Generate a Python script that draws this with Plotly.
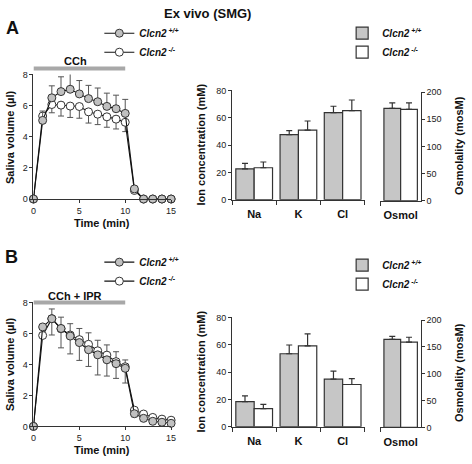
import plotly.graph_objects as go

W, H = 472, 464

# ---------------- data ----------------
time_min = list(range(16))
stim_period = [0, 10]

# Panel A: CCh
a_wt = [0, 5.05, 6.5, 6.9, 7.05, 6.75, 6.45, 6.25, 5.95, 5.8, 5.5, 0.65, 0, 0, 0, 0]
a_wt_err = [0, 0.6, 0.77, 0.95, 1.05, 0.86, 0.85, 0.88, 0.85, 0.87, 0.9, 0, 0, 0, 0, 0]
a_ko = [0, 5.33, 6.07, 6.03, 5.97, 5.94, 5.6, 5.45, 5.28, 5.13, 4.93, 0.55, 0, 0, 0, 0]
a_ko_err = [0, 0.2, 0.53, 0.7, 0.73, 0.75, 0.72, 0.67, 0.67, 0.63, 0.6, 0, 0, 0, 0, 0]

# Panel B: CCh + IPR
b_wt = [0, 6.42, 6.95, 6.32, 5.83, 5.41, 4.95, 4.62, 4.3, 4.05, 3.75, 0.82, 0.52, 0.33, 0.27, 0.2]
b_wt_err = [0, 0, 1.05, 1.25, 1.15, 1.15, 1.08, 1.3, 1.05, 0.95, 0.95, 0.2, 0.1, 0.1, 0.1, 0.1]
b_ko = [0, 5.87, 6.95, 6.3, 5.9, 5.6, 5.3, 4.88, 4.6, 4.18, 3.85, 1.05, 0.8, 0.58, 0.47, 0.4]
b_ko_err = [0, 0, 0.63, 0.75, 0.73, 0.72, 0.74, 0.68, 0.66, 0.64, 0.44, 0.1, 0.1, 0.1, 0.1, 0.1]

ions = ["Na", "K", "Cl"]
osm_cat = ["Osmol"]

a_ion_wt = [22.6, 47.6, 63.8]
a_ion_wt_err = [4.0, 3.0, 4.6]
a_ion_ko = [23.4, 50.9, 65.2]
a_ion_ko_err = [4.2, 6.7, 7.8]
a_osm_wt = [170]
a_osm_wt_err = [10]
a_osm_ko = [168]
a_osm_ko_err = [12]

b_ion_wt = [18.4, 53.4, 34.8]
b_ion_wt_err = [4.2, 6.4, 5.9]
b_ion_ko = [13.3, 59.1, 30.9]
b_ion_ko_err = [3.0, 8.8, 4.3]
b_osm_wt = [164]
b_osm_wt_err = [5.5]
b_osm_ko = [159]
b_osm_ko_err = [9]

WT_NAME = "<b><i>Clcn2</i></b><b><i><sup> +/+</sup></i></b>"
KO_NAME = "<b><i>Clcn2</i></b><b><i><sup> -/-</sup></i></b>"

# ---------------- style ----------------
FONT = "Liberation Sans, Arial, Helvetica, sans-serif"
GRAY_MARK = "#c0c0c0"
GRAY_BAR = "#c6c6c6"
EDGE = "#333333"
ERR = "#555555"


def px(p):
    return p / W


def py(p):
    return 1 - p / H


fig = go.Figure()


def zeros(n):
    return [0] * n


def add_time_panel(wt, wt_err, ko, ko_err, xa, ya, leg, wt_up):
    n = len(time_min)
    if wt_up:
        wt_e = dict(array=wt_err, arrayminus=zeros(n))
        ko_e = dict(array=zeros(n), arrayminus=ko_err)
    else:
        wt_e = dict(array=zeros(n), arrayminus=wt_err)
        ko_e = dict(array=ko_err, arrayminus=zeros(n))
    fig.add_trace(go.Scatter(
        x=time_min, y=ko, mode="lines+markers", name=KO_NAME, legend=leg, legendrank=2,
        xaxis=xa, yaxis=ya, cliponaxis=False,
        line=dict(color="#111111", width=1.1),
        marker=dict(symbol="circle", size=8, color="white", line=dict(color=EDGE, width=1)),
        error_y=dict(type="data", symmetric=False, color=ERR, thickness=1, width=3, **ko_e),
    ))
    fig.add_trace(go.Scatter(
        x=time_min, y=wt, mode="lines+markers", name=WT_NAME, legend=leg, legendrank=1,
        xaxis=xa, yaxis=ya, cliponaxis=False,
        line=dict(color="#111111", width=1.1),
        marker=dict(symbol="circle", size=8, color=GRAY_MARK, line=dict(color=EDGE, width=1)),
        error_y=dict(type="data", symmetric=False, color=ERR, thickness=1, width=3, **wt_e),
    ))


def add_bar_panel(wt, wt_err, ko, ko_err, owt, owt_err, oko, oko_err, xi, yi, xo, yo, leg):
    n = len(ions)
    for vals, errs, col, name, rank in [(wt, wt_err, GRAY_BAR, WT_NAME, 1),
                                        (ko, ko_err, "white", KO_NAME, 2)]:
        fig.add_trace(go.Bar(
            x=ions, y=vals, name=name, legend=leg, legendrank=rank,
            xaxis=xi, yaxis=yi,
            marker=dict(color=col, line=dict(color=EDGE, width=1.2)),
            error_y=dict(type="data", symmetric=False, array=errs, arrayminus=zeros(n),
                         color=EDGE, thickness=1.2, width=3),
        ))
    for vals, errs, col, name in [(owt, owt_err, GRAY_BAR, WT_NAME),
                                  (oko, oko_err, "white", KO_NAME)]:
        fig.add_trace(go.Bar(
            x=osm_cat, y=vals, name=name, showlegend=False,
            xaxis=xo, yaxis=yo,
            marker=dict(color=col, line=dict(color=EDGE, width=1.2)),
            error_y=dict(type="data", symmetric=False, array=errs, arrayminus=[0],
                         color=EDGE, thickness=1.2, width=3),
        ))


add_time_panel(a_wt, a_wt_err, a_ko, a_ko_err, "x", "y", "legend", True)
add_bar_panel(a_ion_wt, a_ion_wt_err, a_ion_ko, a_ion_ko_err,
              a_osm_wt, a_osm_wt_err, a_osm_ko, a_osm_ko_err, "x2", "y2", "x3", "y3", "legend2")
add_time_panel(b_wt, b_wt_err, b_ko, b_ko_err, "x4", "y4", "legend3", False)
add_bar_panel(b_ion_wt, b_ion_wt_err, b_ion_ko, b_ion_ko_err,
              b_osm_wt, b_osm_wt_err, b_osm_ko, b_osm_ko_err, "x5", "y5", "x6", "y6", "legend4")

axis_base = dict(showline=True, linecolor=EDGE, linewidth=1, ticks="outside", ticklen=3,
                 tickcolor=EDGE, tickwidth=1, showgrid=False, zeroline=False,
                 tickfont=dict(family=FONT, size=9, color="#222222"), fixedrange=True)
cat_font = dict(family=FONT, size=11, color="#111111", weight="bold")

rows = {
    "A": dict(line=(198.3, 71.0), ion=(199.0, 87.3), osm=(200.0, 89.0)),
    "B": dict(line=(430.7, 304.0), ion=(431.0, 319.3), osm=(431.7, 322.0)),
}
line_x = (31, 171)
ion_x = (233, 368)
osm_x = (384, 425)

layout_axes = {}
for r, (lx, ly, ix, iy, ox, oy) in zip(["A", "B"], [("xaxis", "yaxis", "xaxis2", "yaxis2", "xaxis3", "yaxis3"),
                                                   ("xaxis4", "yaxis4", "xaxis5", "yaxis5", "xaxis6", "yaxis6")]):
    g = rows[r]
    anchor = lambda name: name.replace("axis", "")
    layout_axes[lx] = dict(axis_base, domain=[px(line_x[0]), px(line_x[1])], range=[0, 15],
                           tickvals=[0, 5, 10, 15], anchor=anchor(ly))
    layout_axes[ly] = dict(axis_base, domain=[py(g["line"][0]), py(g["line"][1])], range=[0, 8],
                           tickvals=[0, 2, 4, 6, 8], anchor=anchor(lx))
    layout_axes[ix] = dict(axis_base, domain=[px(ion_x[0]), px(ion_x[1])], type="category",
                           range=[-0.5, 2.5], tickson="boundaries", ticklen=4, anchor=anchor(iy),
                           tickfont=cat_font, ticklabelstandoff=4)
    layout_axes[iy] = dict(axis_base, domain=[py(g["ion"][0]), py(g["ion"][1])], range=[0, 80],
                           tickvals=[0, 20, 40, 60, 80], anchor=anchor(ix))
    layout_axes[ox] = dict(axis_base, domain=[px(osm_x[0]), px(osm_x[1])], type="category",
                           range=[-0.5, 0.5], tickson="boundaries", ticklen=4, anchor=anchor(oy),
                           tickfont=cat_font, ticklabelstandoff=4)
    layout_axes[oy] = dict(axis_base, domain=[py(g["osm"][0]), py(g["osm"][1])], range=[0, 200],
                           tickvals=[0, 50, 100, 150, 200], side="right", anchor=anchor(ox))

leg_common = dict(bgcolor="rgba(0,0,0,0)", borderwidth=0, xanchor="left", yanchor="top",
                  font=dict(family=FONT, size=10, color="#111111"), tracegroupgap=0,
                  itemwidth=30)


def ann(text, x, y, size=11, angle=0, bold=True):
    return dict(text=("<b>%s</b>" % text) if bold else text, x=px(x), y=py(y), xref="paper", yref="paper",
                showarrow=False, textangle=angle, xanchor="center", yanchor="middle",
                font=dict(family=FONT, size=size, color="#111111"))


annotations = [
    ann("Ex vivo (SMG)", 208, 9, size=13),
    ann("A", 10, 23, size=18),
    ann("B", 9, 258, size=18),
    ann("CCh", 74, 57),
    ann("CCh + IPR", 73, 297),
    ann("Time (min)", 101, 223),
    ann("Time (min)", 101, 455),
    ann("Saliva volume (µl)", 7, 135, angle=-90),
    ann("Saliva volume (µl)", 7, 367, angle=-90),
    ann("Ion concentration (mM)", 201, 143, angle=-90),
    ann("Ion concentration (mM)", 201, 375, angle=-90),
    ann("Osmolality (mosM)", 464, 144, angle=-90),
    ann("Osmolality (mosM)", 464, 376, angle=-90),
]

shapes = [
    dict(type="line", xref="x", yref="y domain", x0=stim_period[0], x1=stim_period[1], y0=1.047, y1=1.047,
         line=dict(color="#a8a8a8", width=4)),
    dict(type="line", xref="x4", yref="y4 domain", x0=stim_period[0], x1=stim_period[1], y0=1.0, y1=1.0,
         line=dict(color="#a8a8a8", width=4)),
]

fig.update_layout(
    width=W, height=H, margin=dict(l=0, r=0, t=0, b=0),
    paper_bgcolor="white", plot_bgcolor="white",
    font=dict(family=FONT, color="#111111"),
    barmode="group", bargap=0.17, bargroupgap=0,
    showlegend=True,
    legend=dict(leg_common, x=px(98), y=py(14)),
    legend2=dict(leg_common, x=px(345), y=py(14)),
    legend3=dict(leg_common, x=px(98), y=py(248)),
    legend4=dict(leg_common, x=px(345), y=py(251)),
    annotations=annotations,
    shapes=shapes,
    **layout_axes,
)

fig.write_html("out.html", config=dict(displayModeBar=False),
               post_script="document.body.style.margin='0';document.body.style.padding='0';")
